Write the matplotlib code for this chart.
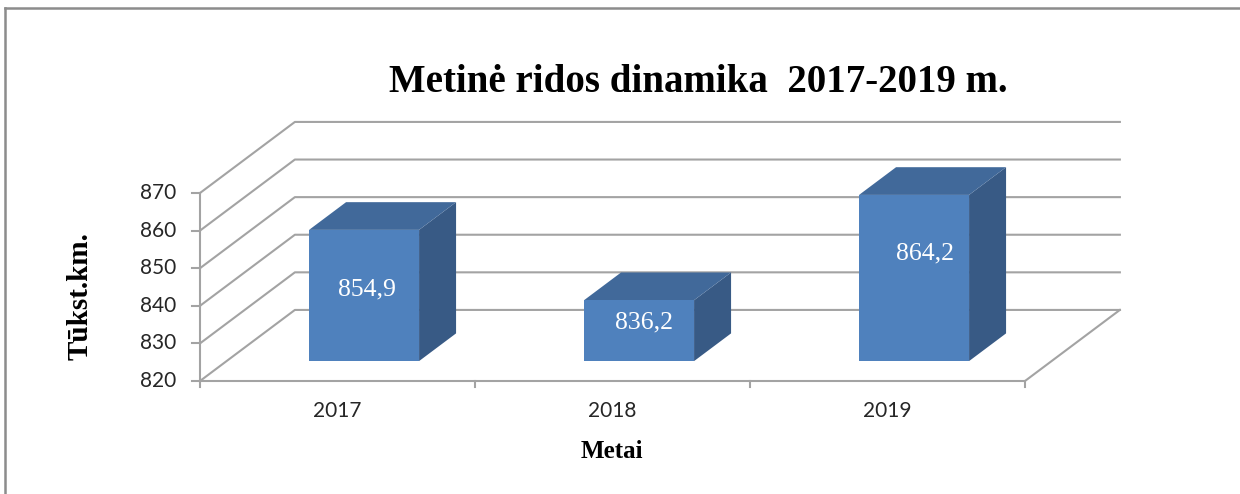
import matplotlib.pyplot as plt
from matplotlib.lines import Line2D

years = ['2017', '2018', '2019']
values = [854.9, 836.2, 864.2]
value_labels = ['854,9', '836,2', '864,2']
y_ticks = [820, 830, 840, 850, 860, 870]

# excel-like 3d look (oblique projection)
DEPTH_X = 0.345   # full depth shift, category units
DEPTH_Y = 18.9    # full depth shift, value units
BAR_W = 0.40
BAR_D0, BAR_D1 = 0.28, 0.67
FRONT = '#4F81BD'
TOP = '#41699A'
SIDE = '#385A85'
GRID = '#A3A3A3'
label_nudge = [(3, 6), (5, 8), (11, 25)]  # pixels, where excel put the value labels

fig = plt.figure(figsize=(12.4, 4.94), dpi=100)
ax = fig.add_axes([0, 0, 1, 1])
ax.set_xlim(-200 / 275, 1040 / 275)
ax.set_ylim(820 - 113 / 3.76, 820 + 381 / 3.76)
ax.axis('off')

n = len(years)
base = y_ticks[0]


def proj(x, v, d):
    return x + d * DEPTH_X, v + d * DEPTH_Y


# side wall + back wall gridlines
for v in y_ticks:
    pts = [proj(0, v, 0), proj(0, v, 1), proj(n, v, 1)]
    ax.plot([p[0] for p in pts], [p[1] for p in pts], color=GRID, lw=1.5, zorder=1)

# floor front and right edges
pts = [proj(0, base, 0), proj(n, base, 0), proj(n, base, 1)]
ax.plot([p[0] for p in pts], [p[1] for p in pts], color=GRID, lw=1.5, zorder=1)

# value axis
ax.plot([0, 0], [base, y_ticks[-1]], color=GRID, lw=1.5, zorder=1)
for v in y_ticks:
    ax.plot([-8 / 275, 0], [v, v], color=GRID, lw=1.5, zorder=1)
    ax.text(-24 / 275, v, str(v), ha='right', va='center', fontsize=15,
            family='Lato', color='#262626')

# category axis ticks and labels
for i in range(n + 1):
    ax.plot([i, i], [base, base - 6 / 3.76], color=GRID, lw=1.5, zorder=1)
for i, yr in enumerate(years):
    ax.text(i + 0.5, base - 30 / 3.76, yr, ha='center', va='center', fontsize=15,
            family='Lato', color='#262626')

# bars
for i, v in enumerate(values):
    x0 = i + 0.5 - BAR_W / 2
    x1 = i + 0.5 + BAR_W / 2
    front = [proj(x0, base, BAR_D0), proj(x1, base, BAR_D0), proj(x1, v, BAR_D0), proj(x0, v, BAR_D0)]
    top = [proj(x0, v, BAR_D0), proj(x1, v, BAR_D0), proj(x1, v, BAR_D1), proj(x0, v, BAR_D1)]
    side = [proj(x1, base, BAR_D0), proj(x1, base, BAR_D1), proj(x1, v, BAR_D1), proj(x1, v, BAR_D0)]
    for poly, col in [(side, SIDE), (top, TOP), (front, FRONT)]:
        ax.fill([p[0] for p in poly], [p[1] for p in poly], color=col, lw=0, zorder=3)
    cx, cy = proj(i + 0.5, (base + v) / 2, BAR_D0)
    ax.annotate(value_labels[i], (cx, cy), xytext=label_nudge[i], textcoords='offset pixels',
                ha='center', va='center', fontsize=18.5, family='Liberation Serif',
                color='white', zorder=4)

# titles
fig.text(698 / 1240, 1 - 83 / 494, 'Metinė ridos dinamika  2017-2019 m.', ha='center', va='center',
         fontsize=28, fontweight='bold', family='Liberation Serif')
fig.text(612 / 1240, 1 - 451 / 494, 'Metai', ha='center', va='center',
         fontsize=18, fontweight='bold', family='Liberation Serif')
fig.text(80 / 1240, 1 - 296 / 494, 'Tūkst.km.', ha='center', va='center', rotation=90,
         fontsize=21, fontweight='bold', family='Liberation Serif')

# chart frame (only left and top edges visible)
fig.add_artist(Line2D([5 / 1240, 5 / 1240], [0, 1 - 8 / 494], color='#8C8C8C', lw=1.8))
fig.add_artist(Line2D([5 / 1240, 1], [1 - 8 / 494, 1 - 8 / 494], color='#8C8C8C', lw=1.8))

fig.savefig('out.png', dpi=100)
